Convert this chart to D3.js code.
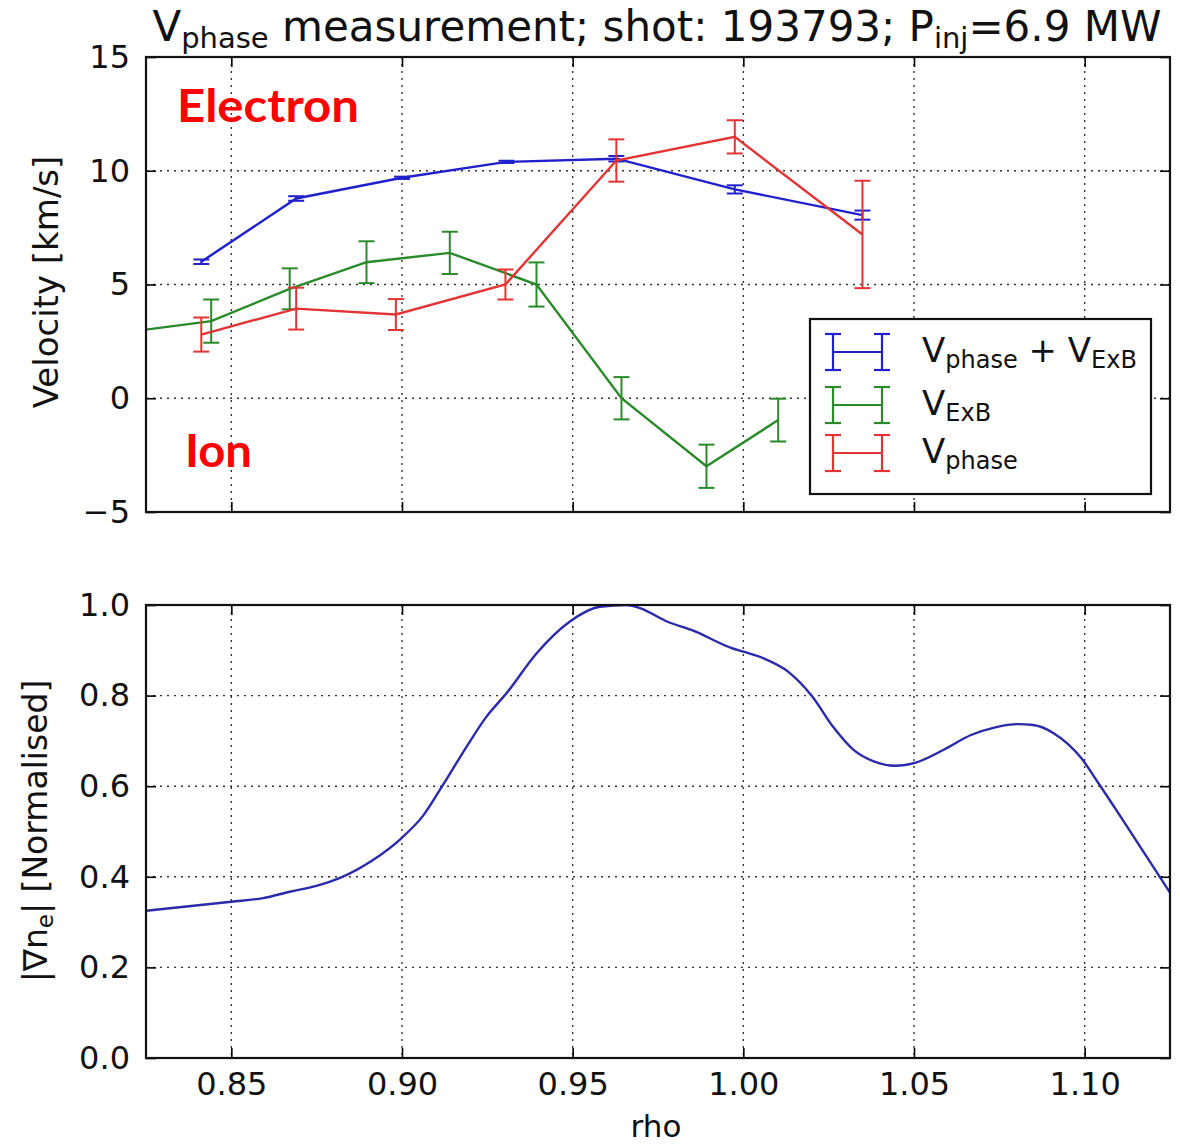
<!DOCTYPE html>
<html>
<head>
<meta charset="utf-8">
<script src="https://cdn.jsdelivr.net/npm/d3@7"></script>
<style>
  html, body { margin: 0; padding: 0; background: #fff; }
  svg { display: block; font-family: "DejaVu Sans", sans-serif; }
</style>
</head>
<body>
<svg id="chart" width="1180" height="1145"></svg>
<script>
// ---------- data ----------
const rhoSum   = [0.8412, 0.8690, 0.9000, 0.9306, 0.9628, 0.9975, 1.0349];
const vSum     = [6.00, 8.78, 9.69, 10.39, 10.53, 9.18, 8.05];
const eSum     = [0.10, 0.10, 0.05, 0.05, 0.12, 0.18, 0.20];

const rhoExB   = [0.8190, 0.8441, 0.8671, 0.8896, 0.9140, 0.9394, 0.9643, 0.9892, 1.0102];
const vExB     = [2.90, 3.39, 4.81, 5.98, 6.39, 5.00, 0.00, -2.99, -0.96];
const eExB     = [0.90, 0.95, 0.90, 0.92, 0.93, 0.97, 0.93, 0.95, 0.94];

const rhoPhase = [0.8412, 0.8690, 0.8982, 0.9303, 0.9628, 0.9975, 1.0349];
const vPhase   = [2.80, 3.94, 3.68, 5.00, 10.45, 11.49, 7.20];
const ePhase   = [0.75, 0.92, 0.68, 0.66, 0.93, 0.73, 2.36];

const rhoGrad  = [0.8251, 0.8500, 0.8593, 0.8671, 0.8749, 0.8817, 0.8915, 0.8998, 0.9062, 0.9120,
                  0.9189, 0.9247, 0.9306, 0.9394, 0.9491, 0.9579, 0.9658, 0.9697, 0.9778, 0.9848,
                  0.9969, 1.0000, 1.0060, 1.0131, 1.0202, 1.0263, 1.0323, 1.0384, 1.0444, 1.0505,
                  1.0586, 1.0667, 1.0738, 1.0803, 1.0849, 1.0909, 1.0990, 1.1041, 1.1112, 1.1182, 1.1250];
const gradNe   = [0.325, 0.345, 0.353, 0.367, 0.380, 0.397, 0.437, 0.485, 0.535, 0.603,
                  0.687, 0.753, 0.805, 0.893, 0.963, 0.996, 1.000, 0.993, 0.963, 0.945,
                  0.904, 0.897, 0.882, 0.853, 0.798, 0.731, 0.680, 0.654, 0.645, 0.652,
                  0.680, 0.713, 0.730, 0.737, 0.735, 0.717, 0.662, 0.606, 0.525, 0.444, 0.365];

const xTicks    = [0.85, 0.90, 0.95, 1.00, 1.05, 1.10];
const yTopTicks = [-5, 0, 5, 10, 15];
const yBotTicks = [0.0, 0.2, 0.4, 0.6, 0.8, 1.0];

const seriesTop = [
  {name: "sum",   rho: rhoSum,   v: vSum,   e: eSum,   color: "#2020cc"},
  {name: "exb",   rho: rhoExB,   v: vExB,   e: eExB,   color: "#2a8a2a"},
  {name: "phase", rho: rhoPhase, v: vPhase, e: ePhase, color: "#e23434"}
];

// ---------- layout ----------
const svg = d3.select("#chart");
const L = 146, R = 1170;
const topT = 57, topB = 512, botT = 605, botB = 1058;

const x = d3.scaleLinear().domain([0.825, 1.125]).range([L, R]);
const yTop = d3.scaleLinear().domain([-5, 15]).range([topB, topT]);
const yBot = d3.scaleLinear().domain([0, 1]).range([botB, botT]);

const defs = svg.append("defs");
defs.append("clipPath").attr("id", "clipTop").append("rect")
  .attr("x", L).attr("y", topT).attr("width", R - L).attr("height", topB - topT);
defs.append("clipPath").attr("id", "clipBot").append("rect")
  .attr("x", L).attr("y", botT).attr("width", R - L).attr("height", botB - botT);

function panel(y, yT, yB, yTicks, yFmt, showX) {
  const g = svg.append("g");
  g.selectAll(".gx").data(xTicks).enter().append("line")
    .attr("x1", d => x(d)).attr("x2", d => x(d)).attr("y1", yT).attr("y2", yB)
    .attr("stroke", "#333").attr("stroke-width", 1.4).attr("stroke-dasharray", "2,5");
  g.selectAll(".gy").data(yTicks).enter().append("line")
    .attr("y1", d => y(d)).attr("y2", d => y(d)).attr("x1", L).attr("x2", R)
    .attr("stroke", "#333").attr("stroke-width", 1.4).attr("stroke-dasharray", "2,5");
  const ax = [
    g.append("g").attr("transform", `translate(0,${yB})`)
      .call(d3.axisBottom(x).tickValues(xTicks).tickSize(-10).tickPadding(14)
        .tickFormat(showX ? d3.format(".2f") : () => "")),
    g.append("g").attr("transform", `translate(0,${yT})`)
      .call(d3.axisTop(x).tickValues(xTicks).tickSize(-10).tickFormat(() => "")),
    g.append("g").attr("transform", `translate(${L},0)`)
      .call(d3.axisLeft(y).tickValues(yTicks).tickSize(-10).tickPadding(16).tickFormat(yFmt)),
    g.append("g").attr("transform", `translate(${R},0)`)
      .call(d3.axisRight(y).tickValues(yTicks).tickSize(-10).tickFormat(() => ""))
  ];
  ax.forEach(a => {
    a.select(".domain").remove();
    a.selectAll(".tick line").attr("stroke", "#000").attr("stroke-width", 1.6);
    a.selectAll(".tick text").attr("font-size", 32).attr("fill", "#111")
      .attr("font-family", "DejaVu Sans");
  });
  return g;
}

panel(yTop, topT, topB, yTopTicks, d3.format("d"), false);
panel(yBot, botT, botB, yBotTicks, d3.format(".1f"), true);

// ---------- top series ----------
const plotTop = svg.append("g").attr("clip-path", "url(#clipTop)");
seriesTop.forEach(s => {
  const pts = s.rho.map((r, i) => ({r, v: s.v[i], e: s.e[i]}));
  plotTop.append("path").datum(pts)
    .attr("d", d3.line().x(d => x(d.r)).y(d => yTop(d.v)))
    .attr("fill", "none").attr("stroke", s.color).attr("stroke-width", 2.4);
  const eb = plotTop.append("g").attr("stroke", s.color).attr("stroke-width", 2);
  pts.forEach(p => {
    eb.append("line").attr("x1", x(p.r)).attr("x2", x(p.r))
      .attr("y1", yTop(p.v - p.e)).attr("y2", yTop(p.v + p.e));
    [p.v - p.e, p.v + p.e].forEach(c => {
      eb.append("line").attr("x1", x(p.r) - 8).attr("x2", x(p.r) + 8)
        .attr("y1", yTop(c)).attr("y2", yTop(c));
    });
  });
});

// ---------- bottom series ----------
const plotBot = svg.append("g").attr("clip-path", "url(#clipBot)");
plotBot.append("path").datum(rhoGrad.map((r, i) => ({r, v: gradNe[i]})))
  .attr("d", d3.line().curve(d3.curveMonotoneX).x(d => x(d.r)).y(d => yBot(d.v)))
  .attr("fill", "none").attr("stroke", "#2a2aaa").attr("stroke-width", 2.4);

// ---------- frames ----------
[[topT, topB], [botT, botB]].forEach(([t, b]) => {
  svg.append("rect").attr("x", L).attr("y", t).attr("width", R - L).attr("height", b - t)
    .attr("fill", "none").attr("stroke", "#111").attr("stroke-width", 2.2);
});

// ---------- legend ----------
const leg = svg.append("g");
leg.append("rect").attr("x", 810).attr("y", 319).attr("width", 341).attr("height", 175)
  .attr("fill", "#fff").attr("stroke", "#111").attr("stroke-width", 2.2);
const legRows = [
  {color: seriesTop[0].color, y: 352, parts: [["V", 0], ["phase", 1], [" + V", 0], ["ExB", 1]]},
  {color: seriesTop[1].color, y: 405, parts: [["V", 0], ["ExB", 1]]},
  {color: seriesTop[2].color, y: 453, parts: [["V", 0], ["phase", 1]]}
];
legRows.forEach(row => {
  const g = leg.append("g").attr("stroke", row.color).attr("stroke-width", 2.2);
  [833, 882].forEach(cx => {
    g.append("line").attr("x1", cx).attr("x2", cx).attr("y1", row.y - 18).attr("y2", row.y + 18);
    g.append("line").attr("x1", cx - 8).attr("x2", cx + 8).attr("y1", row.y - 18).attr("y2", row.y - 18);
    g.append("line").attr("x1", cx - 8).attr("x2", cx + 8).attr("y1", row.y + 18).attr("y2", row.y + 18);
  });
  g.append("line").attr("x1", 833).attr("x2", 882).attr("y1", row.y).attr("y2", row.y);
  const t = leg.append("text").attr("x", 922).attr("y", row.y + 10)
    .attr("font-size", 34).attr("fill", "#111");
  let sub = 0;
  row.parts.forEach(([txt, isSub]) => {
    const dy = isSub ? (sub ? 0 : 6) : (sub ? -6 : 0);
    sub = isSub;
    t.append("tspan").attr("dy", dy).attr("font-size", isSub ? 24 : 34).text(txt);
  });
});

// ---------- titles & labels ----------
const title = svg.append("text").attr("x", 657).attr("y", 41)
  .attr("text-anchor", "middle").attr("font-size", 42).attr("fill", "#111");
title.append("tspan").text("V");
title.append("tspan").attr("font-size", 29).attr("dy", 7).text("phase");
title.append("tspan").attr("dy", -7).text(" measurement; shot: 193793; P");
title.append("tspan").attr("font-size", 29).attr("dy", 7).text("inj");
title.append("tspan").attr("dy", -7).text("=6.9 MW");

svg.append("text").attr("transform", "translate(58,282) rotate(-90)")
  .attr("text-anchor", "middle").attr("font-size", 34).attr("fill", "#111")
  .text("Velocity [km/s]");

const yl2 = svg.append("text").attr("transform", "translate(47,831) rotate(-90)")
  .attr("text-anchor", "middle").attr("font-size", 33).attr("fill", "#111");
yl2.append("tspan").text("|∇n");
yl2.append("tspan").attr("font-size", 23).attr("dy", 6).text("e");
yl2.append("tspan").attr("dy", -6).text("| [Normalised]");

svg.append("text").attr("x", 656).attr("y", 1137).attr("text-anchor", "middle")
  .attr("font-size", 31).attr("fill", "#111").text("rho");

// annotations
svg.append("text").attr("x", 177).attr("y", 122).attr("font-family", "Lato, sans-serif")
  .attr("font-weight", 700).attr("font-size", 46).attr("fill", "#ff0000")
  .attr("textLength", 182).attr("lengthAdjust", "spacingAndGlyphs").text("Electron");
svg.append("text").attr("x", 185).attr("y", 467).attr("font-family", "Lato, sans-serif")
  .attr("font-weight", 700).attr("font-size", 46).attr("fill", "#ff0000")
  .attr("textLength", 67).attr("lengthAdjust", "spacingAndGlyphs").text("Ion");
</script>
</body>
</html>
